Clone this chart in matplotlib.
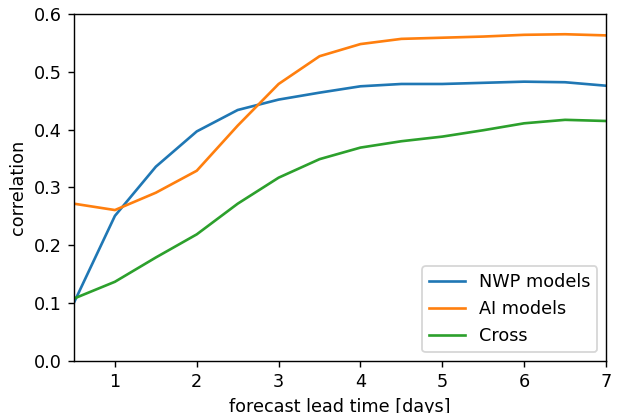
import matplotlib
matplotlib.use('Agg')
import matplotlib.pyplot as plt

lead_time = [0.5, 1, 1.5, 2, 2.5, 3, 3.5, 4, 4.5, 5, 5.5, 6, 6.5, 7]
nwp = [0.101, 0.251, 0.336, 0.397, 0.434, 0.452, 0.464, 0.475, 0.479, 0.479, 0.481, 0.483, 0.482, 0.476]
ai = [0.272, 0.261, 0.291, 0.329, 0.407, 0.479, 0.527, 0.548, 0.557, 0.559, 0.561, 0.564, 0.565, 0.563]
cross = [0.108, 0.137, 0.179, 0.219, 0.272, 0.317, 0.349, 0.369, 0.380, 0.388, 0.399, 0.411, 0.417, 0.415]

dpi = 127
fig = plt.figure(figsize=(622 / dpi, 413 / dpi), dpi=dpi)
ax = fig.add_axes([74 / 622, 1 - 361 / 413, (606 - 74) / 622, (361 - 14) / 413])

ax.plot(lead_time, nwp, label='NWP models')
ax.plot(lead_time, ai, label='AI models')
ax.plot(lead_time, cross, label='Cross')

ax.set_xlim(0.5, 7)
ax.set_ylim(0, 0.6)
ax.set_xlabel('forecast lead time [days]')
ax.set_ylabel('correlation')
ax.legend(loc='lower right')

fig.savefig('out.png', dpi=dpi)
plt.close(fig)
